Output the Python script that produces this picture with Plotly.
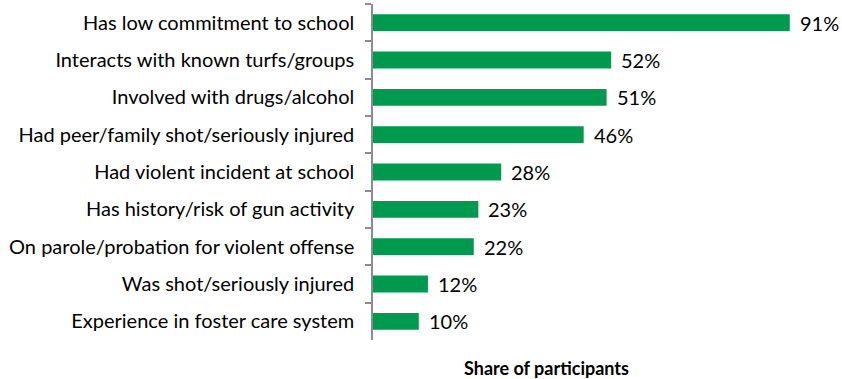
import plotly.graph_objects as go

categories = [
    "Has low commitment to school",
    "Interacts with known turfs/groups",
    "Involved with drugs/alcohol",
    "Had peer/family shot/seriously injured",
    "Had violent incident at school",
    "Has history/risk of gun activity",
    "On parole/probation for violent offense",
    "Was shot/seriously injured",
    "Experience in foster care system",
]
values = [91, 52, 51, 46, 28, 23, 22, 12, 10]
labels = [f"{v}%" for v in values]

FONT = "Lato"
GREEN = "#009A4E"
FS = 20

fig = go.Figure()
fig.add_trace(go.Bar(
    y=categories, x=values, orientation="h",
    marker=dict(color=GREEN, line=dict(width=0)),
    width=0.45,
    hoverinfo="skip",
))
for c, v, t in zip(categories, values, labels):
    fig.add_annotation(x=v, y=c, text=t, showarrow=False, xanchor="left",
                       xshift=8, font=dict(family=FONT, size=FS, color="#000000"))

fig.add_annotation(text="<b>Share of participants</b>", xref="paper", yref="paper",
                   x=(546 - 373) / (831 - 373), y=-0.046, xanchor="center", yanchor="top",
                   showarrow=False, font=dict(family=FONT, size=18, color="#000000"))

fig.update_layout(
    width=842, height=379,
    margin=dict(l=373, r=11, t=4, b=39, autoexpand=False),
    paper_bgcolor="white", plot_bgcolor="white",
    showlegend=False,
    font=dict(family=FONT, size=FS, color="#000000"),
    xaxis=dict(range=[0, 100], showticklabels=False, showgrid=False, zeroline=False,
               showline=False, ticks="", automargin=False),
    yaxis=dict(autorange="reversed", showgrid=False, zeroline=False, automargin=False,
               showline=True, linecolor="#8c8c8c", linewidth=1.5,
               ticks="outside", tickson="boundaries", ticklen=6, tickcolor="#8c8c8c",
               tickwidth=1.5, ticklabelstandoff=13,
               tickfont=dict(family=FONT, size=FS, color="#000000")),
)
fig.write_html("out.html", config={"displayModeBar": False},
               post_script="document.body.style.margin='0';")
